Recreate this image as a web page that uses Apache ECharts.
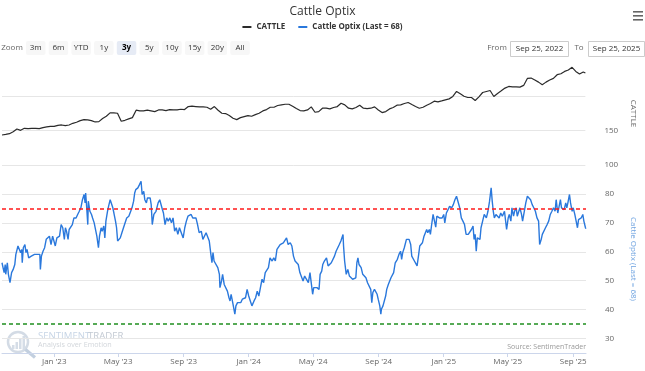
<!DOCTYPE html>
<html>
<head>
<meta charset="utf-8">
<script src="https://cdn.jsdelivr.net/npm/echarts@6/dist/echarts.min.js"></script>
<style>
html,body{margin:0;padding:0;background:#fff;}
#chart{width:645px;height:371px;}
</style>
</head>
<body>
<div id="chart"></div>
<script>
// ---- data ----
const startDate = '2022-09-25';
const endDate = '2025-09-25';
// CATTLE: weekly samples from startDate, last value at endDate
const cattle = [143.7,144.6,145.6,148.5,152.4,150.5,153.4,152.9,153.4,153.4,152.9,154.4,155.4,156.3,156.3,157.8,158.3,157.3,158.3,160.7,162.2,164.6,166.1,165.6,164.6,162.7,163.2,167.6,171,175.9,175.9,175.4,163.7,165.1,167.1,169,179.8,178.8,178.8,179.8,178.8,177.8,180.2,180.2,179.3,180.7,180.2,180.2,181.2,180.7,185.1,185.6,185.1,
184.6,184.6,184.1,181.2,185.1,179.8,175.4,174.9,172,168,166.1,169,170.5,172,171,173.4,175.4,178.8,180.7,184.1,184.1,186.6,187.6,188.5,188.5,185.6,182.2,179.3,178.8,180.2,184.6,176.8,177.8,182.7,182.7,181.7,183.7,185.1,190,187.6,182.7,181.7,183.7,187.1,182.7,182.2,182.7,184.6,180.2,176.3,177.8,181.7,183.7,
187.1,187.6,189.5,191,188,185.1,182.7,184.1,187.1,189.5,192.9,192,193.4,194.9,196.3,199.8,207.1,203.7,200.2,198.3,198.3,193.9,199.3,205.6,207.1,208.5,199.8,204.1,208,212,214.4,213.9,213.9,213.4,215.9,226.1,226.6,223.7,220.7,216.8,220.7,223.7,226.1,231.5,232.9,236.3,238.3,242.2,236.3,232.4,235.4,233.9];
// Cattle Optix: day number since startDate, and value
const optixDays = [0,4,6,7,10,12,15,18,21,24,26,28,30,32,35,37,38,40,43,45,47,50,52,55,58,61,64,67,71,72,74,77,80,83,86,89,92,95,98,100,103,105,108,111,114,117,119,121,124,126,129,132,135,139,142,145,148,151,154,156,157,159,161,162,165,168,170,173,176,178,181,183,186,188,191,193,195,198,200,203,205,208,210,213,215,217,219,222,225,228,231,234,238,241,244,247,249,251,255,258,261,263,266,268,271,273,276,278,280,282,285,287,289,
293,296,298,301,303,306,309,312,315,318,321,324,327,330,333,336,340,343,346,349,352,355,358,361,364,367,370,374,377,380,383,386,389,392,394,396,398,401,405,408,409,412,414,417,420,423,426,428,430,433,435,437,439,442,445,448,451,454,457,460,463,466,469,473,476,479,482,485,488,491,494,497,500,503,507,510,513,516,519,522,525,528,531,534,537,541,544,547,550,553,556,559,562,565,568,
571,575,578,580,583,585,588,591,595,597,600,602,605,609,612,615,618,621,624,627,630,633,636,640,641,643,646,649,652,655,658,661,664,666,668,670,674,677,680,683,686,689,692,694,696,699,701,704,706,709,711,712,715,717,720,722,725,727,730,732,735,738,742,745,748,750,752,755,757,759,762,764,767,769,772,774,777,779,782,784,787,789,792,794,797,799,802,804,806,809,811,814,816,819,821,824,826,829,831,834,837,840,844,847,850,
853,856,859,862,865,868,871,875,878,881,884,886,888,890,892,894,897,899,902,905,909,912,915,918,920,922,924,927,930,933,936,939,943,946,947,950,952,955,957,960,962,965,967,970,972,975,977,980,983,986,989,992,995,998,1001,1004,1007,1009,1012,1014,1017,1020,1023,1026,1029,1032,1035,1038,1040,1043,1045,1048,1050,1053,1055,1058,1060,1062,1065,1067,1070,1072,1075,1077,1080,1082,1085,1087,1090,1092,1095,1096];
const optixValues = [56.2,52.8,55.6,52.2,56.2,52.2,49.3,52.8,53.9,55.6,59.1,58.5,62,62.5,59.7,60.8,56.2,61.4,62.5,59.7,60.8,57.9,57.4,58.5,57.9,59.1,58.5,59.1,59.1,53.9,58.5,60.2,61.4,64.3,64.3,65.4,62.5,65.4,66,62,64.8,64.8,65.4,69.4,68.3,64.3,68.3,67.1,64.3,67.7,68.3,69.4,71.7,71.7,72.9,74,75.2,78,79.8,76.9,80.3,75.2,69.4,77.5,74,72.9,71.7,70,69.4,65.4,61.4,65.4,68.3,67.1,68.9,64.8,70.6,74,75.7,78,77.5,75.2,73.4,70.6,68.3,63.7,63.1,64.8,66.6,68.3,68.3,71.7,72.3,71.7,75.2,77.5,80.3,81.5,82.1,83.2,84.4,79.8,80.9,78,76.9,78.6,78,78.6,76.3,69.4,72.9,72.3,74,
76.9,78,78,74.6,73.4,69.4,71.7,70.6,71.7,70,71.7,67.1,68.3,66,68.3,68.9,64.8,68.3,70.6,72.3,71.7,72.9,71.7,72.3,71.7,69.4,66.6,67.1,64.3,63.7,66.6,67.1,63.7,59.1,56.2,59.7,56.8,56.8,54.5,52.2,47.6,49.9,52.2,48.7,48.7,46.4,44.1,43,45.3,42.4,41.8,38.4,41.3,42.4,43,42.4,43.6,43,44.1,47,44.7,43,41.3,43,44.1,46.4,44.7,47.6,50.5,49.3,52.8,52.8,54.5,57.9,56.8,57.9,56.8,60.8,60.2,62.5,63.1,63.1,63.7,64.8,62.5,63.1,62,58.5,56.8,56.2,55.6,52.8,53.3,49.9,51.6,
52.2,49.3,52.8,53.3,45.3,47.6,47,47.6,47,52.2,53.3,55.6,56.8,57.9,55.1,55.6,56.2,55.6,58.5,60.2,60.2,62.5,63.7,66,62,56.8,52.2,53.9,51.6,51,50.5,50.5,51,56.2,57.9,55.6,54.5,52.2,52.8,51,49.3,48.7,47,42.4,45.9,47,47.6,45.3,43.6,41.3,38.4,40.1,41.3,41.8,44.7,47,48.7,48.7,51,51,52.8,56.2,57.4,59.1,60.2,57.4,59.7,61.4,62,64.3,64.3,64.3,62.5,58.5,58.5,56.8,56.2,55.1,59.1,62,62,63.1,65.4,66,67.7,66.6,67.7,66,68.9,72.9,72.9,68.5,72.3,72.9,71.7,72.3,71.7,72.9,70,73.4,74,75.7,75.2,76.3,78,
79.2,78.9,75.2,71.7,70.6,69.4,66,66,66.6,67.7,68.9,64.3,66,60.2,64.8,65.4,64.3,68.3,70.6,72.9,71.7,74,77.5,82.1,77.5,74,71.7,72.9,72.3,71.7,73.4,72.3,74,74,67.7,71.7,72.9,70.6,75.2,72.3,74,75.2,72.3,71.7,75.2,72.9,70.6,71.1,76.9,79.2,78.6,78,76.3,75.2,74,71.7,70.6,62.5,64.3,66,65.4,68.3,69.4,70.6,72.9,74,75.2,74,78,73.4,75.2,78,75.2,75.7,74.6,76.9,75.2,76.9,79.8,76.9,74,75.2,72.9,72.3,68.3,71.1,70.6,71.7,72.9,70.6,68.3,68];
const overbought = 75;
const oversold = 35;
const tickDates = ['2023-01-01','2023-05-01','2023-09-01','2024-01-01','2024-05-01','2024-09-01','2025-01-01','2025-05-01','2025-09-01'];
const tickLabels = ["Jan '23","May '23","Sep '23","Jan '24","May '24","Sep '24","Jan '25","May '25","Sep '25"];
const cattleTicks = [100, 150];
const optixTicks = [30, 40, 50, 60, 70, 80];
const zoomButtons = ['3m','6m','YTD','1y','3y','5y','10y','15y','20y','All'];
const selectedButton = '3y';
const fromText = 'Sep 25, 2022';
const toText = 'Sep 25, 2025';

// ---- helpers ----
function ms(s){ const p = s.split('-').map(Number); return Date.UTC(p[0], p[1]-1, p[2]); }
const DAY = 86400000;
const t0 = ms(startDate);
const cattleDates = cattle.map((_, i) => i === cattle.length - 1 ? ms(endDate) : t0 + i * 7 * DAY);
const tickMs = tickDates.map(ms);
const lastOptix = Math.round(optixValues[optixValues.length - 1]);
const optixName = 'Cattle Optix (Last = ' + lastOptix + ')';
const FONT = 'Open Sans';

const chart = echarts.init(document.getElementById('chart'), null, {renderer: 'canvas'});

// ---- UI graphics (range selector, menu icon, watermark) ----
const graphics = [];
[11, 15, 19].forEach(y => graphics.push({type:'rect', shape:{x:633, y:y, width:10, height:1.6}, style:{fill:'#666'}, silent:true}));
graphics.push({type:'text', style:{x:12, y:48, text:'Zoom', font:'8px ' + FONT, fill:'#666', textAlign:'center', textVerticalAlign:'middle'}});
zoomButtons.forEach((b, i) => {
  const x = 26 + i * 22.7;
  const sel = b === selectedButton;
  graphics.push({type:'rect', shape:{x:x, y:41, width:19.5, height:14, r:2}, style:{fill: sel ? '#e6ebf5' : '#f7f7f7'}});
  graphics.push({type:'text', style:{x:x + 9.75, y:48, text:b, font:(sel ? 'bold ' : '') + '8px ' + FONT, fill: sel ? '#000' : '#333', textAlign:'center', textVerticalAlign:'middle'}});
});
graphics.push({type:'text', style:{x:497, y:48, text:'From', font:'8px ' + FONT, fill:'#666', textAlign:'center', textVerticalAlign:'middle'}});
graphics.push({type:'rect', shape:{x:510.5, y:41.5, width:58, height:15}, style:{fill:'#fff', stroke:'#cccccc', lineWidth:1}});
graphics.push({type:'text', style:{x:539.5, y:49, text:fromText, font:'8px ' + FONT, fill:'#333', textAlign:'center', textVerticalAlign:'middle'}});
graphics.push({type:'text', style:{x:579, y:48, text:'To', font:'8px ' + FONT, fill:'#666', textAlign:'center', textVerticalAlign:'middle'}});
graphics.push({type:'rect', shape:{x:588.5, y:41.5, width:56, height:15}, style:{fill:'#fff', stroke:'#cccccc', lineWidth:1}});
graphics.push({type:'text', style:{x:616.5, y:49, text:toText, font:'8px ' + FONT, fill:'#333', textAlign:'center', textVerticalAlign:'middle'}});
graphics.push({type:'text', style:{x:586, y:347, text:'Source: SentimenTrader', font:'7px ' + FONT, fill:'#999', textAlign:'right', textVerticalAlign:'middle'}});
graphics.push({type:'circle', shape:{cx:18, cy:342, r:10}, style:{fill:'none', stroke:'#d3dbe5', lineWidth:2.5}, silent:true});
[[12,345,2.5,4],[15.5,342,2.5,7],[19,339,2.5,10],[22.5,336,2.5,13]].forEach(r => graphics.push({type:'rect', shape:{x:r[0], y:r[1], width:r[2], height:r[3]}, style:{fill:'#d5dde7'}, silent:true}));
graphics.push({type:'line', shape:{x1:25.5, y1:349.5, x2:35, y2:357.5}, style:{stroke:'#c2cfdf', lineWidth:3.2}, silent:true});
graphics.push({type:'text', style:{x:38, y:336.5, text:'SENTIMENT', font:'9.6px ' + FONT, fill:'#c7d5e6', textAlign:'left', textVerticalAlign:'middle'}});
graphics.push({type:'text', style:{x:88, y:336.5, text:'TRADER', font:'9.6px ' + FONT, fill:'#c3cad3', textAlign:'left', textVerticalAlign:'middle'}});
graphics.push({type:'text', style:{x:38, y:345, text:'Analysis over Emotion', font:'7.2px ' + FONT, fill:'#d2d6db', textAlign:'left', textVerticalAlign:'middle'}});

const option = {
  backgroundColor: '#ffffff',
  animation: false,
  textStyle: {fontFamily: FONT},
  title: {
    text: 'Cattle Optix', left: 'center', top: 1,
    textStyle: {fontSize: 12, fontWeight: 'normal', color: '#333', fontFamily: FONT}
  },
  legend: {
    top: 18, left: 'center', itemGap: 13, itemWidth: 9, itemHeight: 2, icon: 'rect',
    textStyle: {fontSize: 8, fontWeight: 'bold', color: '#333', fontFamily: FONT},
    data: ['CATTLE', optixName]
  },
  graphic: graphics,
  grid: [
    {left: 2, right: 53, top: 62, height: 103},
    {left: 2, right: 53, top: 165, height: 188}
  ],
  xAxis: [
    {type: 'value', gridIndex: 0, min: t0, max: ms(endDate), show: false, splitLine: {show: false}},
    {type: 'value', gridIndex: 1, min: t0, max: ms(endDate),
      axisLine: {show: true, lineStyle: {color: '#ccd6eb', width: 1}},
      axisTick: {show: true, length: 4, lineStyle: {color: '#ccd6eb'}, customValues: tickMs},
      axisLabel: {customValues: tickMs, fontSize: 8, color: '#666', margin: 5, fontFamily: FONT,
        formatter: v => { const k = tickMs.indexOf(v); return k >= 0 ? tickLabels[k] : ''; }},
      splitLine: {show: false}
    }
  ],
  yAxis: [
    {type: 'value', gridIndex: 0, position: 'right', min: 100, max: 250, splitNumber: 3,
      axisLine: {show: false}, axisTick: {show: false},
      axisLabel: {fontSize: 8, color: '#666', margin: 19, fontFamily: FONT, padding: [0,0,5,0],
        formatter: v => cattleTicks.includes(v) ? String(v) : ''},
      splitLine: {show: true, showMaxLine: false, lineStyle: {color: '#e6e6e6', width: 1}},
      name: 'CATTLE', nameLocation: 'middle', nameRotate: -90, nameGap: 35,
      nameTextStyle: {fontSize: 8, color: '#666', fontFamily: FONT}
    },
    {type: 'value', gridIndex: 1, position: 'right', min: 25, max: 90, splitNumber: 6,
      axisLine: {show: false}, axisTick: {show: false},
      axisLabel: {fontSize: 8, color: '#666', margin: 19, fontFamily: FONT, padding: [0,0,5,0],
        formatter: v => optixTicks.includes(v) ? String(v) : ''},
      splitLine: {show: true, showMinLine: false, showMaxLine: false, lineStyle: {color: '#e6e6e6', width: 1}},
      name: optixName, nameLocation: 'middle', nameRotate: -90, nameGap: 31,
      nameTextStyle: {fontSize: 8, color: '#6fa3e0', fontFamily: FONT, padding: [0,0,12,0]}
    }
  ],
  series: [
    {name: 'CATTLE', type: 'line', xAxisIndex: 0, yAxisIndex: 0, showSymbol: false,
      data: cattleDates.map((d, i) => [d, cattle[i]]),
      lineStyle: {color: '#2b2b2b', width: 1.2}, itemStyle: {color: '#2b2b2b'}},
    {name: optixName, type: 'line', xAxisIndex: 1, yAxisIndex: 1, showSymbol: false,
      data: optixDays.map((d, i) => [t0 + d * DAY, optixValues[i]]),
      lineStyle: {color: '#2a78dc', width: 1.4}, itemStyle: {color: '#2a78dc'},
      markLine: {silent: true, symbol: 'none', label: {show: false}, animation: false,
        data: [
          {yAxis: overbought, lineStyle: {color: '#ff1a1a', type: [4, 3], width: 1.5}},
          {yAxis: oversold, lineStyle: {color: '#1f8f1f', type: [4, 3], width: 1.5}}
        ]}
    }
  ]
};
chart.setOption(option);
</script>
</body>
</html>
